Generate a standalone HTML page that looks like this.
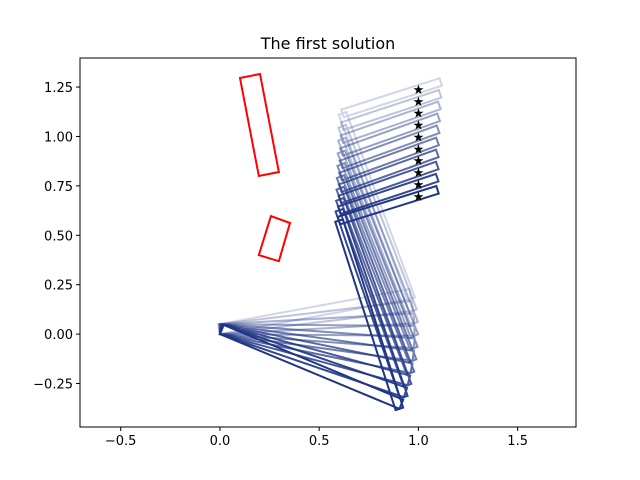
<!DOCTYPE html>
<html><head><meta charset="utf-8"><style>
body{margin:0;background:#fff;}
svg{display:block;font-family:"DejaVu Sans","Liberation Sans",sans-serif;}
</style></head><body>
<svg id="chart" width="640" height="480" viewBox="0 0 640 480">
<rect width="640" height="480" fill="#fff"/>
<text x="328" y="49" text-anchor="middle" font-size="16" fill="#000">The first solution</text>
<g id="plot"></g>
<rect x="80" y="58" width="496" height="369" fill="none" stroke="#000" stroke-width="1"/>
<g id="axes"></g>
</svg>
<script>
const xTicks = [-0.5, 0.0, 0.5, 1.0, 1.5];
const xTickLabels = ["−0.5", "0.0", "0.5", "1.0", "1.5"];
const yTicks = [-0.25, 0.0, 0.25, 0.5, 0.75, 1.0, 1.25];
const yTickLabels = ["−0.25", "0.00", "0.25", "0.50", "0.75", "1.00", "1.25"];
const theta1 = [-22.7, -19.0, -15.3, -11.6, -7.9, -4.2, -0.5, 3.2, 6.9, 10.5];
const theta2 = [107.7, 108.97, 109.94, 110.73, 111.29, 111.53, 111.59, 111.35, 110.92, 110.25];
const theta3 = [17.4, 18.5, 19.3, 19.8, 20.0, 20.0, 19.7, 19.2, 18.4, 17.8];
const linkLengths = [0.98, 1.0, 0.52];
const targetsX = [1.0, 1.0, 1.0, 1.0, 1.0, 1.0, 1.0, 1.0, 1.0, 1.0];
const targetsY = [0.70, 0.76, 0.82, 0.88, 0.94, 1.00, 1.06, 1.12, 1.18, 1.24];
const obstacle1X = [0.101, 0.202, 0.297, 0.196];
const obstacle1Y = [1.296, 1.316, 0.820, 0.800];
const obstacle2X = [0.257, 0.353, 0.297, 0.196];
const obstacle2Y = [0.597, 0.562, 0.369, 0.400];

const NS = "http://www.w3.org/2000/svg";
const X0 = 80, X1 = 576, Y0 = 58, Y1 = 427;
const xmin = -0.705, xmax = 1.794, ymin = -0.47, ymax = 1.397;
const sx = v => X0 + (v - xmin) / (xmax - xmin) * (X1 - X0);
const sy = v => Y1 - (v - ymin) / (ymax - ymin) * (Y1 - Y0);
const plot = document.getElementById('plot');
const axes = document.getElementById('axes');
function mk(tag, attrs, parent) {
  const e = document.createElementNS(NS, tag);
  for (const k in attrs) e.setAttribute(k, attrs[k]);
  parent.appendChild(e);
  return e;
}
function rectPts(x, y, ang, len, h0, h1) {
  const c = Math.cos(ang), s = Math.sin(ang);
  const p = [[x - h0 * -s, y - h0 * c], [x + len * c - h0 * -s, y + len * s - h0 * c],
             [x + len * c - h1 * s, y + len * s + h1 * c], [x - h1 * s, y + h1 * c]];
  return p.map(q => sx(q[0]).toFixed(2) + "," + sy(q[1]).toFixed(2)).join(" ");
}
[[obstacle1X, obstacle1Y], [obstacle2X, obstacle2Y]].forEach((ob, k) => {
  const pts = ob[0].map((v, i) => sx(v).toFixed(2) + "," + sy(ob[1][i]).toFixed(2)).join(" ");
  const el = mk('polygon', {points: pts, fill: 'none', stroke: '#ff0000', 'stroke-width': 2}, plot);
  
  
});
const n = theta1.length;
for (let i = n - 1; i >= 0; i--) {
  const alpha = 1 - (i / (n - 1)) * 0.8;
  const g = mk('g', {opacity: alpha.toFixed(3)}, plot);
  
  
  const angs = [theta1[i], theta2[i], theta3[i]].map(a => a * Math.PI / 180);
  let x = 0, y = 0;
  for (let j = 0; j < 3; j++) {
    const h0 = j === 0 ? 0 : 0.02, h1 = j === 0 ? 0.05 : 0.02;
    const el = mk('polygon', {points: rectPts(x, y, angs[j], linkLengths[j], h0, h1), fill: 'none', stroke: '#1f3585', 'stroke-width': 2}, g);
    
    
    x += linkLengths[j] * Math.cos(angs[j]);
    y += linkLengths[j] * Math.sin(angs[j]);
  }
}
for (let i = 0; i < targetsX.length; i++) {
  const t = mk('text', {x: sx(targetsX[i]), y: sy(targetsY[i]) + 5, 'text-anchor': 'middle', 'font-size': 13, fill: '#000'}, plot);
  t.textContent = '★';
  
  
}
xTicks.forEach((v, i) => {
  const px = sx(v);
  const l = mk('line', {x1: px, x2: px, y1: Y1, y2: Y1 + 4, stroke: '#000'}, axes);
  
  
  const t = mk('text', {x: px, y: Y1 + 18, 'text-anchor': 'middle', 'font-size': 13, fill: '#000'}, axes);
  t.textContent = xTickLabels[i];
  
  
});
yTicks.forEach((v, i) => {
  const py = sy(v);
  const l = mk('line', {x1: X0 - 4, x2: X0, y1: py, y2: py, stroke: '#000'}, axes);
  
  
  const t = mk('text', {x: X0 - 7, y: py + 5, 'text-anchor': 'end', 'font-size': 13, fill: '#000'}, axes);
  t.textContent = yTickLabels[i];
  
  
});
</script>
</body></html>
